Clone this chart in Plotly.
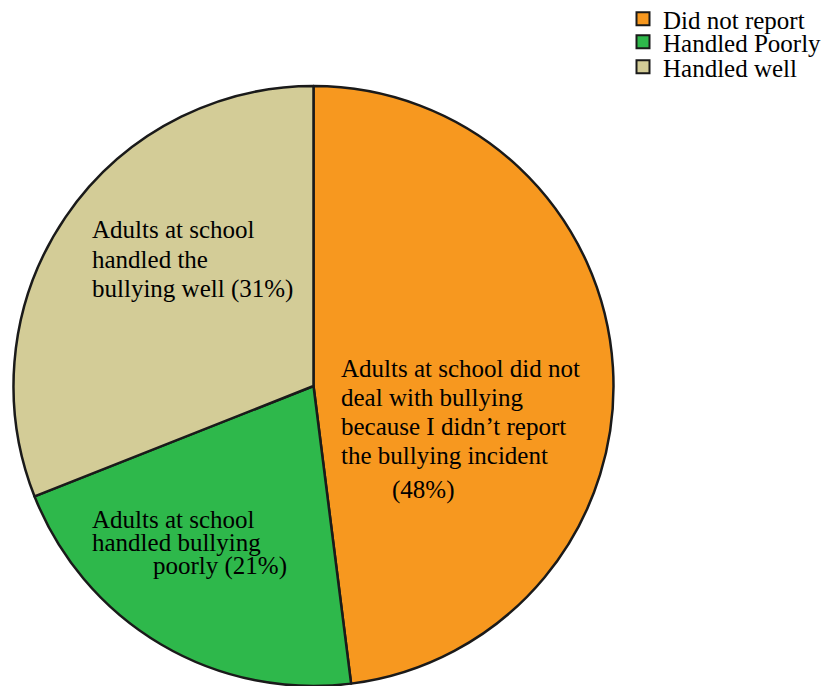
import plotly.graph_objects as go

W, H = 821, 686
OFF = 0  # page body margin removed below via post_script

legend_labels = ["Did not report", "Handled Poorly", "Handled well"]
values = [48, 21, 31]
colors = ["#F7981F", "#2EB84B", "#D3CC97"]

# label text lines for each slice (inside labels)
orange_lines = ["Adults at school did not", "deal with bullying",
                "because I didn\u2019t report", "the bullying incident"]
orange_pct = "(48%)"
green_lines = ["Adults at school", "handled bullying", "poorly (21%)"]
tan_lines = ["Adults at school", "handled the", "bullying well (31%)"]

FONT = "Liberation Serif"
FS = 25

def px(x):
    return (x - OFF) / W

def py(y):
    return 1 - (y - OFF) / H

fig = go.Figure()
fig.add_trace(go.Pie(
    labels=legend_labels,
    values=values,
    sort=False,
    direction="clockwise",
    rotation=0,
    marker=dict(colors=colors, line=dict(color="#1a1a1a", width=2.5)),
    textinfo="none",
    hoverinfo="label+percent",
    showlegend=False,
    domain=dict(x=[px(13), px(614)], y=[max(0, py(686)), py(86)]),
))

# legend entries (one legend per entry so rows can sit tightly like the reference)
legend_ids = ["legend", "legend2", "legend3"]
legend_rows = [19, 42, 67]
for lab, col, lid in zip(legend_labels, colors, legend_ids):
    fig.add_trace(go.Scatter(
        x=[None], y=[None], mode="markers", name=lab,
        marker=dict(symbol="square", size=13, color=col,
                    line=dict(color="#1a1a1a", width=2)),
        legend=lid, showlegend=True, hoverinfo="skip",
    ))

annotations = []

def add_line(text, x, baseline):
    annotations.append(dict(
        text=text, x=px(x - 2), y=py(baseline - 8), xref="paper", yref="paper",
        xanchor="left", yanchor="middle", showarrow=False,
        font=dict(family=FONT, size=FS, color="black"),
    ))

for i, t in enumerate(orange_lines):
    add_line(t, 341, 377 + 28.9 * i)
add_line(orange_pct, 392, 498)

green_starts = [92, 92, 153]
for i, t in enumerate(green_lines):
    add_line(t, green_starts[i], 527 + 23.5 * i)

for i, t in enumerate(tan_lines):
    add_line(t, 92, 237.5 + 29.5 * i)

legend_common = dict(
    x=px(623), xanchor="left", yanchor="middle",
    font=dict(family=FONT, size=FS, color="black"),
    bgcolor="rgba(0,0,0,0)", borderwidth=0,
)
layout_legends = {}
for lid, row in zip(legend_ids, legend_rows):
    layout_legends[lid] = dict(legend_common, y=py(row))

fig.update_layout(
    width=W, height=H,
    margin=dict(l=0, r=0, t=0, b=0, autoexpand=False),
    paper_bgcolor="white",
    plot_bgcolor="white",
    showlegend=True,
    xaxis=dict(visible=False),
    yaxis=dict(visible=False),
    annotations=annotations,
    **layout_legends,
)

fig.write_html(
    "out.html",
    config={"displayModeBar": False},
    post_script="document.body.style.margin='0';document.body.style.overflow='hidden';",
)
